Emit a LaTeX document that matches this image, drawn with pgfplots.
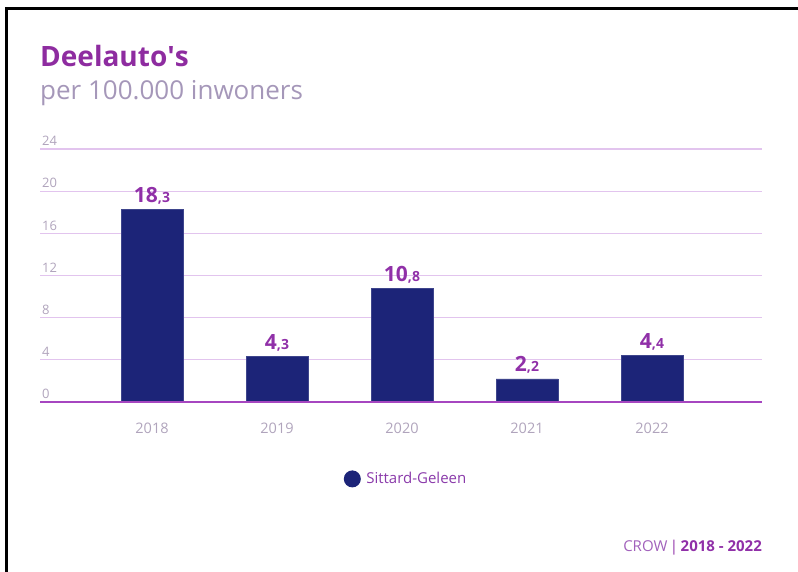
\documentclass[border=0pt]{standalone}
\usepackage{pgfplots}
\pgfplotsset{compat=1.18}
\usepackage{pgfplotstable}
\usepackage{fontspec}
\setmainfont{Open Sans}
\definecolor{navy}{HTML}{1C2478}
\definecolor{titlepurple}{HTML}{8E2CA0}
\definecolor{valpurple}{HTML}{9030A8}
\definecolor{subc}{HTML}{A597B9}
\definecolor{tickc}{HTML}{B0A4BC}
\definecolor{gridc}{HTML}{E2C4EE}
\definecolor{axisc}{HTML}{A646C0}
\definecolor{legc}{HTML}{8A3AAA}
\pgfplotstableread{
x y ip dp
0 18.3 18 3
1 4.3 4 3
2 10.8 10 8
3 2.2 2 2
4 4.4 4 4
}\data
\begin{document}
\begin{tikzpicture}[x=1pt,y=1pt]
\path[use as bounding box] (0,0) rectangle (798,571);
\draw[black, line width=2.5pt] (6.5,-5) -- (6.5,562.5) -- (805,562.5);
\node[anchor=base west, inner sep=0, text=titlepurple, font=\bfseries\fontsize{28}{33}\selectfont] at (40,504) {Deelauto\textquotesingle s};
\node[anchor=base west, inner sep=0, text=subc, font=\fontsize{26}{31}\selectfont] at (40,471) {per 100.000 inwoners};
\begin{axis}[
  at={(40pt,169pt)}, anchor=south west,
  scale only axis, width=722pt, height=253pt,
  xmin=-0.896, xmax=4.88, ymin=0, ymax=24,
  ytick={0,4,...,24},
  xtick={0,1,2,3,4},
  xticklabels={2018,2019,2020,2021,2022},
  ymajorgrids,
  grid style={color=gridc, line width=1.2pt},
  axis line style={draw=none},
  major tick length=0pt,
  /pgf/number format/assume math mode=true,
  yticklabel style={anchor=south west, inner sep=2pt, yshift=1pt, text=tickc, font=\fontsize{13}{16}\selectfont},
  xticklabel style={yshift=-17pt, text=tickc, font=\fontsize{14.5}{17}\selectfont},
  legend style={at={(0.507,-0.304)}, anchor=center, draw=none, fill=none,
    font=\fontsize{15}{18}\selectfont, text=legc},
  legend image code/.code={\fill[navy, draw=none] (0pt,0pt) circle (8.5pt); \path[draw=none, fill=none] (8.5pt,0pt) -- (12pt,0pt);},
]
\addplot[ybar, bar width=62pt, fill=navy, draw=navy!85!white, line width=0.5pt,
  visualization depends on={\thisrow{ip}\as\intp},
  visualization depends on={\thisrow{dp}\as\decp},
  nodes near coords={\bfseries\fontsize{21}{25}\selectfont\pgfmathprintnumber[fixed,precision=0]{\intp}\fontsize{14}{17}\selectfont,\pgfmathprintnumber[fixed,precision=0]{\decp}},
  every node near coord/.append style={anchor=base, inner sep=0pt, yshift=7pt, text=valpurple}]
  table[x=x,y=y]{\data};
\addlegendentry{Sittard-Geleen}
\draw[axisc, line width=1.5pt] (axis cs:-0.896,0) -- (axis cs:4.88,0);
\end{axis}
\node[anchor=base east, inner sep=0, font=\fontsize{15}{18}\selectfont] at (762,20) {\textcolor{legc!80!white}{CROW}\,\textcolor{valpurple}{|\,\textbf{2018 - 2022}}};
\end{tikzpicture}
\end{document}
